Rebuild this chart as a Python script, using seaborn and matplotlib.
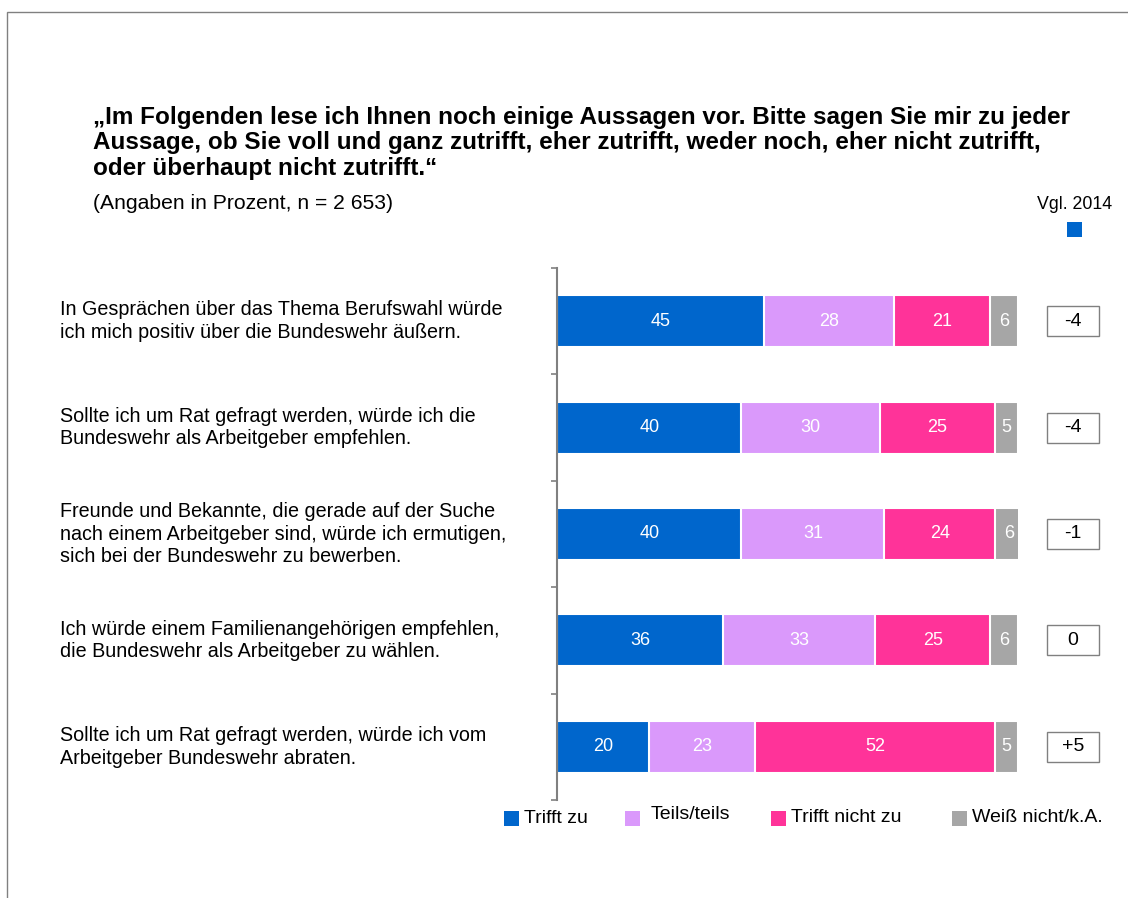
import numpy as np
import pandas as pd
import matplotlib.pyplot as plt
import matplotlib.transforms as mtransforms
from matplotlib.patches import Rectangle
import seaborn as sns

# Data
statements = [
    "In Gesprächen über das Thema Berufswahl würde\nich mich positiv über die Bundeswehr äußern.",
    "Sollte ich um Rat gefragt werden, würde ich die\nBundeswehr als Arbeitgeber empfehlen.",
    "Freunde und Bekannte, die gerade auf der Suche\nnach einem Arbeitgeber sind, würde ich ermutigen,\nsich bei der Bundeswehr zu bewerben.",
    "Ich würde einem Familienangehörigen empfehlen,\ndie Bundeswehr als Arbeitgeber zu wählen.",
    "Sollte ich um Rat gefragt werden, würde ich vom\nArbeitgeber Bundeswehr abraten.",
]
categories = ["Trifft zu", "Teils/teils", "Trifft nicht zu", "Weiß nicht/k.A."]
trifft_zu = [45, 40, 40, 36, 20]
teils = [28, 30, 31, 33, 23]
trifft_nicht = [21, 25, 24, 25, 52]
weiss_nicht = [6, 5, 6, 6, 5]
vgl_2014 = ["-4", "-4", "-1", "0", "+5"]

colors = ["#0066CC", "#DA99FB", "#FF3399", "#A6A6A6"]

title = ("„Im Folgenden lese ich Ihnen noch einige Aussagen vor. Bitte sagen Sie mir zu jeder\n"
         "Aussage, ob Sie voll und ganz zutrifft, eher zutrifft, weder noch, eher nicht zutrifft,\n"
         "oder überhaupt nicht zutrifft.“")
subtitle = "(Angaben in Prozent, n = 2 653)"

sns.set_style("white")
plt.rcParams['font.family'] = ['Liberation Sans', 'DejaVu Sans']
plt.rcParams['text.color'] = 'black'

W, H = 1128, 898
fig = plt.figure(figsize=(W / 100, H / 100), dpi=100)

def fx(px):
    return px / W

def fy(py):
    return 1 - py / H

ax = fig.add_axes([fx(557), fy(800), fx(1018) - fx(557), fy(268) - fy(800)])

series = [trifft_zu, teils, trifft_nicht, weiss_nicht]
df = pd.DataFrame({"statement": statements})
cum = np.zeros(len(statements))
cums = []
for s in series:
    cum = cum + np.array(s)
    cums.append(cum.copy())

# draw cumulative bars from the longest to the shortest
for i in range(len(series) - 1, -1, -1):
    df["value"] = cums[i]
    sns.barplot(data=df, x="value", y="statement", orient="h", color=colors[i],
                width=0.49, edgecolor="white", linewidth=1.5, errorbar=None,
                saturation=1, ax=ax)

# labels inside segments
for i, s in enumerate(series):
    for j, v in enumerate(s):
        start = cums[i][j] - v
        ax.text(start + v / 2, j, str(v), ha="center", va="center",
                color="white", fontsize=13)

ax.set_xlim(0, 100)
ax.set_ylim(4.5, -0.5)
ax.set_xlabel("")
ax.set_ylabel("")
ax.set_xticks([])
ax.set_yticks(np.arange(-0.5, 5, 1))
ax.set_yticklabels([])
ax.tick_params(axis="y", direction="out", length=4, color="#808080", width=1.2, left=True)
for side in ["top", "right", "bottom"]:
    ax.spines[side].set_visible(False)
ax.spines["left"].set_color("#808080")
ax.spines["left"].set_linewidth(1.5)

trans = mtransforms.blended_transform_factory(fig.transFigure, ax.transData)

# statements on the left
for j, txt in enumerate(statements):
    ax.text(fx(60), j, txt, transform=trans, ha="left", va="center",
            fontsize=14.2, linespacing=1.25)

# comparison boxes
box_h = 30 / 106
for j, v in enumerate(vgl_2014):
    rect = Rectangle((fx(1047), j - box_h / 2), fx(1099) - fx(1047), box_h,
                     transform=trans, facecolor="white", edgecolor="#808080",
                     linewidth=1, clip_on=False)
    ax.add_patch(rect)
    ax.text(fx(1073), j, v, transform=trans, ha="center", va="center",
            fontsize=14)

# title and subtitle
fig.text(fx(93), fy(175), title, ha="left", va="baseline", fontsize=17.5,
         fontweight="bold", linespacing=1.14, multialignment="left")
fig.text(fx(93), fy(209), subtitle, ha="left", va="baseline", fontsize=15.2)

# Vgl. 2014 header
fig.text(fx(1112), fy(209), "Vgl. 2014", ha="right", va="baseline", fontsize=12.8)
fig.add_artist(Rectangle((fx(1067), fy(237)), fx(15), 15 / H,
                         transform=fig.transFigure, facecolor=colors[0], edgecolor="none"))

# legend
legend_pos = [(504, 524, 823), (625, 651, 819), (771, 791, 822), (952, 972, 822)]
for (sq_x, tx_x, ty), lab, c in zip(legend_pos, categories, colors):
    fig.add_artist(Rectangle((fx(sq_x), fy(826)), fx(15), 15 / H,
                             transform=fig.transFigure, facecolor=c, edgecolor="none"))
    fig.text(fx(tx_x), fy(ty), lab, ha="left", va="baseline", fontsize=14)

# outer frame
fig.add_artist(Rectangle((fx(7), -0.05), 1.1, fy(12) + 0.05,
                         transform=fig.transFigure, facecolor="none",
                         edgecolor="#808080", linewidth=1))

fig.savefig("out.png", dpi=100)
